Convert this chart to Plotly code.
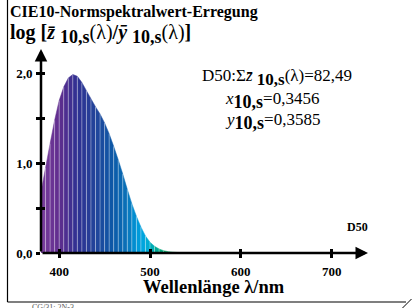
import plotly.graph_objects as go

# ---- data ----
wavelengths = [380, 385, 390, 395, 400, 405, 410, 415, 420, 425, 430, 435, 440, 445,
               450, 455, 460, 465, 470, 475, 480, 485, 490, 495, 500, 505, 510, 515,
               520, 525, 530, 540, 550, 560, 580, 600, 650, 700]
values = [0.68, 0.95, 1.22, 1.48, 1.70, 1.85, 1.95, 1.99, 1.97, 1.90, 1.81, 1.72, 1.63, 1.55,
          1.45, 1.33, 1.19, 1.04, 0.88, 0.71, 0.55, 0.41, 0.29, 0.19, 0.12, 0.075, 0.045, 0.026,
          0.015, 0.009, 0.006, 0.004, 0.003, 0.002, 0.0015, 0.001, 0.001, 0.0008]
y_tickvals = [0, 1, 2]
y_ticktext = ["0,0", "1,0", "2,0"]
x_tickvals = [400, 500, 600, 700]
sum_z = "82,49"
x_val = "0,3456"
y_val = "0,3585"

W, H = 412, 308
# plot area in pixels
PL, PR, PT, PB = 41, 368, 49, 253
XR = [380, 740]
YR = [0, 2.274]
FONT = "Liberation Serif, Times New Roman, serif"

# spectral colour anchors (style)
anchors = [(380, (122, 63, 157)), (400, (96, 45, 142)), (420, (46, 49, 146)),
           (440, (35, 68, 154)), (460, (11, 90, 168)), (475, (10, 115, 185)),
           (485, (0, 150, 215)), (495, (0, 170, 225)), (502, (0, 172, 185)),
           (510, (0, 166, 130)), (520, (0, 160, 90)), (540, (40, 160, 67)),
           (560, (141, 198, 63)), (580, (247, 209, 23)), (600, (247, 148, 29)),
           (620, (237, 28, 36)), (650, (190, 30, 45)), (700, (139, 26, 26))]


def spec_color(w):
    for (w0, c0), (w1, c1) in zip(anchors[:-1], anchors[1:]):
        if w0 <= w <= w1:
            t = (w - w0) / (w1 - w0)
            c = [round(a + (b - a) * t) for a, b in zip(c0, c1)]
            return "rgb(%d,%d,%d)" % tuple(c)
    return "rgb(%d,%d,%d)" % anchors[-1][1]


fig = go.Figure()
for i in range(len(wavelengths) - 1):
    w0, w1 = wavelengths[i], wavelengths[i + 1]
    fig.add_trace(go.Scatter(x=[w0, w1], y=[values[i], values[i + 1]], mode="lines",
                             fill="tozeroy", fillcolor=spec_color((w0 + w1) / 2),
                             line=dict(width=0.5, color=spec_color((w0 + w1) / 2)),
                             hoverinfo="skip", showlegend=False))
# light separator stripes
for w, v in zip(wavelengths, values):
    if 380 < w <= 520:
        fig.add_trace(go.Scatter(x=[w, w], y=[0, v], mode="lines",
                                 line=dict(width=1, color="rgba(255,255,255,0.35)"),
                                 hoverinfo="skip", showlegend=False))


def px(xp):
    return xp / W


def py(yp):
    return 1 - yp / H


tickfont = dict(family=FONT, size=13, color="black", weight="bold")
xdom = [px(PL), px(PR)]
ydom = [py(PB), py(PT)]
fig.update_layout(
    width=W, height=H, margin=dict(l=0, r=0, t=0, b=0, autoexpand=False),
    paper_bgcolor="white", plot_bgcolor="white",
    xaxis=dict(domain=xdom, range=XR, tickvals=x_tickvals, ticks="outside", ticklen=4,
               tickwidth=2.5, tickcolor="black", showgrid=False, zeroline=False,
               showline=False, tickfont=tickfont, ticklabelstandoff=2),
    yaxis=dict(domain=ydom, range=YR, tickvals=y_tickvals, ticktext=y_ticktext,
               ticks="outside", ticklen=4, tickwidth=2.5, tickcolor="black", showgrid=False,
               zeroline=False, showline=False, tickfont=tickfont, ticklabelstandoff=1,
               minor=dict(tickvals=[0.5, 1.5], ticks="outside", ticklen=4, tickwidth=2.5,
                          tickcolor="black")),
    xaxis2=dict(domain=xdom, range=XR, tickvals=x_tickvals, ticks="inside", ticklen=4,
                tickwidth=2.5, tickcolor="black", overlaying="x", side="bottom",
                showticklabels=False, showgrid=False, zeroline=False, showline=False),
    yaxis2=dict(domain=ydom, range=YR, tickvals=[0.5, 1, 1.5, 2], ticks="inside", ticklen=4,
                tickwidth=2.5, tickcolor="black", overlaying="y", side="left",
                showticklabels=False, showgrid=False, zeroline=False, showline=False),
    showlegend=False,
)
fig.add_trace(go.Scatter(x=[None], y=[None], xaxis="x2", yaxis="y2", showlegend=False))

# axes with arrows
fig.add_annotation(x=XR[1], y=0, ax=XR[0], ay=0, xref="x", yref="y", axref="x", ayref="y",
                   text="", showarrow=True, arrowhead=2, arrowsize=1, arrowwidth=2.5,
                   arrowcolor="black")
fig.add_annotation(x=XR[0], y=YR[1], ax=XR[0], ay=0, xref="x", yref="y", axref="x", ayref="y",
                   text="", showarrow=True, arrowhead=2, arrowsize=1, arrowwidth=2.5,
                   arrowcolor="black")


def text(xp, yp, s, size, anchor="left", weight="normal", color="black"):
    fig.add_annotation(x=px(xp), y=py(yp), xref="paper", yref="paper", text=s,
                       showarrow=False, xanchor=anchor, yanchor="middle",
                       font=dict(family=FONT, size=size, color=color, weight=weight))


def sub(s, size):
    return "<sub><span style='font-size:%dpx;font-weight:bold'>%s</span></sub>" % (size, s)


def norm(s):
    return "<span style='font-weight:normal'>%s</span>" % s


text(8, 34, "log [<i>z\u0304</i> " + sub("10,s", 18) + norm("(λ)") + "/<i>y\u0304</i> "
     + sub("10,s", 18) + norm("(λ)") + "]", 20, weight="bold")
text(8, 12, "CIE10-Normspektralwert-Erregung", 16, weight="bold")
text(277, 77, "D50:Σ<i>z\u0304</i> " + sub("10,s", 17) + "(λ)=" + sum_z, 17, anchor="center")
text(272, 100, "<i>x</i>" + sub("10,s", 18) + "=" + x_val, 17, anchor="center")
text(272, 122, "<i>y</i>" + sub("10,s", 18) + "=" + y_val, 17, anchor="center")
text(357, 227, "D50", 12, anchor="center", weight="bold")
text(214, 287, "Wellenlänge λ/nm", 18.5, anchor="center", weight="bold")
text(30, 307, "CG/31: 2N-3", 8, color="#555")

# frame (paper coords = pixels / size)
frame = dict(color="black", width=1.2)
fig.add_shape(type="line", xref="paper", yref="paper", x0=px(7.5), y0=py(0), x1=px(7.5),
              y1=py(302), line=frame)
fig.add_shape(type="line", xref="paper", yref="paper", x0=px(7.5), y0=py(302), x1=px(406),
              y1=py(302), line=frame)
fig.add_shape(type="line", xref="paper", yref="paper", x0=px(402.5), y0=py(308), x1=px(411.5),
              y1=py(299), line=dict(color="black", width=1))

fig.write_html("out.html", config={"displayModeBar": False},
               post_script="document.body.style.margin='0';")
